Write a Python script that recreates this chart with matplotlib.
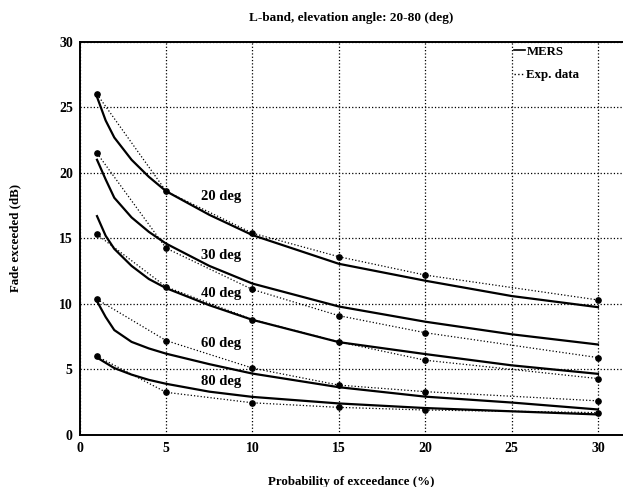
import matplotlib
matplotlib.use("Agg")
import matplotlib.pyplot as plt
from matplotlib.lines import Line2D

# probability of exceedance (%)
x_exp = [1, 5, 10, 15, 20, 30]
x_mers = [1, 1.5, 2, 3, 4, 5, 7.5, 10, 15, 20, 25, 30]

# measured fade (dB)
exp_20 = [26.0, 18.6, 15.4, 13.6, 12.2, 10.3]
exp_30 = [21.5, 14.25, 11.1, 9.1, 7.8, 5.9]
exp_40 = [15.3, 11.3, 8.8, 7.1, 5.7, 4.3]
exp_60 = [10.35, 7.2, 5.1, 3.8, 3.3, 2.6]
exp_80 = [6.0, 3.25, 2.45, 2.1, 1.9, 1.7]

# MERS model (dB)
mers_20 = [25.8, 24.0, 22.7, 21.0, 19.7, 18.6, 16.8, 15.25, 13.06, 11.77, 10.6, 9.75]
mers_30 = [21.0, 19.5, 18.1, 16.6, 15.5, 14.6, 12.9, 11.55, 9.8, 8.64, 7.68, 6.9]
mers_40 = [16.7, 15.2, 14.2, 12.9, 11.9, 11.2, 9.9, 8.78, 7.08, 6.17, 5.31, 4.66]
mers_60 = [10.2, 9.0, 8.0, 7.1, 6.6, 6.2, 5.4, 4.68, 3.64, 2.92, 2.47, 1.94]
mers_80 = [5.9, 5.5, 5.1, 4.6, 4.2, 3.9, 3.3, 2.9, 2.4, 2.05, 1.8, 1.56]

labels = ["20 deg", "30 deg", "40 deg", "60 deg", "80 deg"]
label_y = [18.2, 13.7, 10.8, 7.0, 4.1]

plt.rcParams['font.family'] = ['Liberation Serif', 'DejaVu Serif']
plt.rcParams['font.weight'] = 'bold'

fig = plt.figure(figsize=(6.23, 4.87), dpi=100)
ax = fig.add_axes([0.128, 0.107, 0.872, 0.807])

mers = [mers_20, mers_30, mers_40, mers_60, mers_80]
exps = [exp_20, exp_30, exp_40, exp_60, exp_80]
for i in range(5):
    ax.plot(x_mers, mers[i], color="black", lw=1.6)
    ax.plot(x_exp, exps[i], color="black", lw=0.9, ls=":", marker="o", ms=3.8)
    ax.text(8.2, label_y[i], labels[i], fontsize=10.5, ha="center", va="center",
            fontweight="bold")

ax.set_xlim(0, 31.45)
ax.set_ylim(0, 30)
ax.set_xticks([0, 5, 10, 15, 20, 25, 30])
ax.set_yticks([0, 5, 10, 15, 20, 25, 30])
ax.tick_params(length=0, labelsize=10, pad=5)
for lab in ax.get_xticklabels() + ax.get_yticklabels():
    lab.set_fontweight("bold")
ax.grid(True, color="black", ls=":", lw=0.9)
ax.spines["right"].set_visible(False)
for s in ["left", "bottom", "top"]:
    ax.spines[s].set_linewidth(1.4)

ax.set_title("L-band, elevation angle: 20-80 (deg)", fontsize=9.5,
             fontweight="bold", pad=15)
ax.set_xlabel("Probability of exceedance (%)", fontsize=9.3,
              fontweight="bold", labelpad=15)
ax.set_ylabel("Fade exceeded (dB)", fontsize=9.3, fontweight="bold",
              labelpad=27)

handles = [Line2D([], [], color="black", lw=1.2),
           Line2D([], [], color="black", lw=1.0, ls=":")]
leg = ax.legend(handles, ["MERS", "Exp. data"], loc="upper left",
                bbox_to_anchor=(25.0, 29.9), bbox_transform=ax.transData,
                frameon=False, fontsize=9.3, handlelength=0.8,
                handletextpad=0.15, labelspacing=0.9, borderaxespad=0.0,
                borderpad=0.2)
for t in leg.get_texts():
    t.set_fontweight("bold")

fig.savefig("out.png", dpi=100)
